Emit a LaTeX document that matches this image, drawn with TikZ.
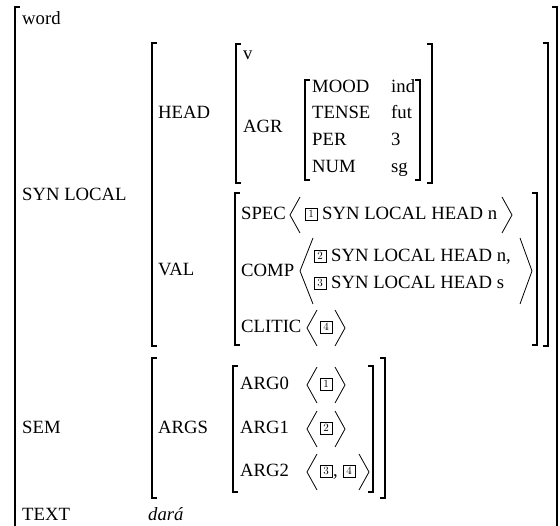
\documentclass[tikz,border=0pt]{standalone}
\usepackage{fontspec}
\setmainfont{Liberation Serif}
\newfontfamily\lmfont{Latin Modern Roman}
\begin{document}
\begin{tikzpicture}[x=1pt,y=-1pt,
  brk/.style={line width=1.5pt},
  ang/.style={line width=0.8pt},
  lab/.style={anchor=base west,inner sep=0pt,font=\fontsize{18.7}{22}\selectfont},
  tag/.style={draw,line width=0.8pt,minimum size=12pt,inner sep=0pt,font=\lmfont\fontsize{11}{11}\selectfont}]
\useasboundingbox (0,0) rectangle (560,526);
% bracket helpers
\newcommand\avmL[3]{\draw[brk] (#1+5,#2) -- (#1,#2) -- (#1,#3) -- (#1+5,#3);}
\newcommand\avmR[3]{\draw[brk] (#1-5,#2) -- (#1,#2) -- (#1,#3) -- (#1-5,#3);}
\newcommand\angL[4]{\draw[ang] (#2,#3) -- (#1,{(#3+#4)/2}) -- (#2,#4);}
\newcommand\angR[4]{\draw[ang] (#1,#3) -- (#2,{(#3+#4)/2}) -- (#1,#4);}
% outer
\draw[brk] (20,7) -- (15,7) -- (15,530);
\draw[brk] (552,7) -- (557,7) -- (557,530);
% SYN LOCAL
\avmL{152}{43}{346}\avmR{548}{43}{346}
% HEAD
\avmL{236}{44}{183}\avmR{432}{44}{183}
% AGR
\avmL{305}{80}{180}\avmR{420}{80}{180}
% VAL
\avmL{235}{193}{345}\avmR{537}{193}{345}
% SEM
\avmL{152}{358}{498}\avmR{385}{358}{498}
% ARGS
\avmL{233}{366}{492}\avmR{373}{366}{492}
% labels
\node[lab] (word) at (22,25) {word};
\node[lab] (synlocal) at (22,201) {SYN LOCAL};
\node[lab] (head) at (158,119) {HEAD};
\node[lab] (v) at (243,60) {v};
\node[lab] (agr) at (243,133) {AGR};
\node[lab] (mood) at (312,93) {MOOD};
\node[lab] (tense) at (312,119) {TENSE};
\node[lab] (per) at (312,146) {PER};
\node[lab] (num) at (312,173) {NUM};
\node[lab] (ind) at (391,93) {ind};
\node[lab] (fut) at (391,119) {fut};
\node[lab] (three) at (391,146) {3};
\node[lab] (sg) at (391,173) {sg};
\node[lab] (val) at (158,276) {VAL};
\node[lab] (spec) at (241,220) {SPEC};
\node[lab] (comp) at (241,277) {COMP};
\node[lab] (clitic) at (241,333) {CLITIC};
\node[tag] (t1) at (311,214) {1};
\node[lab] (s1) at (322,220) {SYN LOCAL HEAD n};
\node[tag] (t2) at (320,256) {2};
\node[lab] (s2) at (331,262) {SYN LOCAL HEAD n,};
\node[tag] (t3) at (320,283) {3};
\node[lab] (s3) at (331,289) {SYN LOCAL HEAD s};
\node[tag] (t4) at (326,327) {4};
\angL{290}{300}{197}{233}\angR{502}{512}{197}{233}
\angL{300}{313}{238}{304}\angR{520}{532}{238}{304}
\angL{307}{317}{310}{346}\angR{335}{345}{310}{346}
\node[lab] (sem) at (22,434) {SEM};
\node[lab] (args) at (158,434) {ARGS};
\node[lab] (arg0) at (240,390) {ARG0};
\node[lab] (arg1) at (240,434) {ARG1};
\node[lab] (arg2) at (240,477) {ARG2};
\node[tag] (a1) at (326,384) {1};
\node[tag] (a2) at (326,428) {2};
\node[tag] (a3) at (326,471) {3};
\node[lab] (comma) at (333,477) {,};
\node[tag] (a4) at (349,471) {4};
\angL{307}{317}{367}{403}\angR{335}{345}{367}{403}
\angL{307}{317}{411}{447}\angR{335}{345}{411}{447}
\angL{307}{317}{454}{490}\angR{359}{369}{454}{490}
\node[lab] (text) at (22,521) {TEXT};
\node[lab] (dara) at (148,521) {\itshape dará};
\end{tikzpicture}
\end{document}
